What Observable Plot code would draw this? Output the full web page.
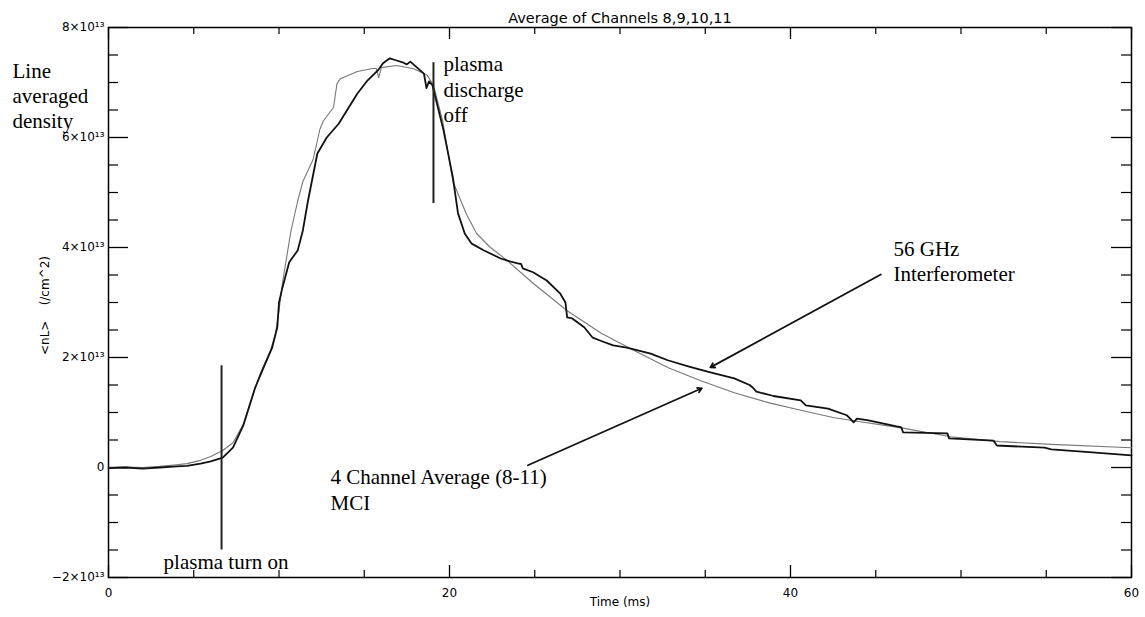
<!DOCTYPE html>
<html>
<head>
<meta charset="utf-8">
<script src="https://cdn.jsdelivr.net/npm/d3@7"></script>
<script src="https://cdn.jsdelivr.net/npm/@observablehq/plot@0.6"></script>
<style>
html,body{margin:0;padding:0;background:#fff;overflow:hidden;}
</style>
</head>
<body>
<div id="chart"></div>
<script>
// Time axis (ms) and density values in units of 10^13 /cm^2
const title = "Average of Channels 8,9,10,11";
const xLabel = "Time (ms)";
const yLabel = "<nL>    (/cm^2)";
const xMajor = [0, 20, 40, 60];
const xMinor = [5, 10, 15, 25, 30, 35, 45, 50, 55];
const yMajor = [-2, 0, 2, 4, 6, 8];
const yMinor = [-1.5, -1, -0.5, 0.5, 1, 1.5, 2.5, 3, 3.5, 4.5, 5, 5.5, 6.5, 7, 7.5];

// 56 GHz interferometer (dark trace)
const ifTime = [0,1,2,3,4,4.6,5.4,6.0,6.7,7.3,7.9,8.6,9.1,9.6,9.9,10.0,10.2,10.6,11.1,11.4,11.7,12.25,12.8,13.5,14.1,14.6,15.2,15.8,16.1,16.5,16.9,17.3,17.5,17.7,18.1,18.5,18.65,18.8,19.0,19.65,20.2,20.5,20.9,21.3,22.0,23.0,23.4,24.0,24.2,24.3,24.9,25.7,26.5,26.8,26.9,27.2,27.9,28.4,28.9,29.6,30.4,31.8,32.8,34.0,35.3,36.7,37.6,37.8,38.0,39.0,40.6,40.9,42.2,43.3,43.5,43.7,43.9,44.5,46.5,46.6,49.2,49.3,51.9,52.1,54.9,55.3,57.5,60];
const ifDensity = [-0.01,0.0,-0.02,0.0,0.02,0.03,0.07,0.11,0.18,0.36,0.76,1.45,1.82,2.18,2.55,3.0,3.27,3.73,3.95,4.31,4.85,5.71,6.0,6.25,6.55,6.8,7.04,7.22,7.35,7.44,7.4,7.36,7.33,7.38,7.27,7.16,6.9,7.02,6.95,6.13,5.27,4.62,4.25,4.07,3.95,3.8,3.76,3.71,3.7,3.62,3.55,3.4,3.16,3.0,2.73,2.71,2.55,2.36,2.3,2.22,2.18,2.07,1.95,1.84,1.73,1.62,1.5,1.45,1.38,1.3,1.22,1.13,1.07,0.95,0.89,0.82,0.89,0.86,0.73,0.64,0.62,0.53,0.49,0.4,0.36,0.33,0.28,0.22];

// 4 channel average (8-11) MCI (light trace)
const mciTime = [0,1,2,3,4,4.6,5.4,6.0,6.7,7.3,7.9,8.5,8.9,9.5,9.8,10.0,10.2,10.4,10.7,11.1,11.4,12.0,12.4,12.6,13.2,13.4,13.6,14.6,15.4,15.7,15.85,16.0,16.9,17.9,18.7,19.06,19.6,20.2,21.0,21.6,22.4,23.4,24.9,26.9,28.9,30.8,32.8,34.7,36.7,38.7,40.6,42.5,43.7,46.5,49.4,52.3,55.3,60];
const mciDensity = [0.0,0.01,0.0,0.02,0.05,0.07,0.13,0.2,0.31,0.45,0.78,1.35,1.71,2.13,2.44,2.85,3.35,3.73,4.3,4.85,5.2,5.6,6.15,6.3,6.55,6.98,7.07,7.2,7.25,7.26,7.09,7.27,7.31,7.25,7.13,6.95,6.3,5.2,4.6,4.25,4.0,3.76,3.35,2.85,2.44,2.13,1.82,1.58,1.36,1.18,1.04,0.91,0.85,0.72,0.56,0.47,0.42,0.36];

// annotations (data coordinates)
const notes = [
  {text: "Line\naveraged\ndensity", x: -5.63, y: 6.77},
  {text: "plasma\ndischarge\noff", x: 19.65, y: 6.89},
  {text: "56 GHz\nInterferometer", x: 46.04, y: 3.77},
  {text: "4 Channel Average (8-11)\nMCI", x: 13.02, y: -0.39},
  {text: "plasma turn on", x: 3.23, y: -1.69}
];
const markers = [
  {x: 6.63, y1: -1.5, y2: 1.85},
  {x: 19.06, y1: 4.8, y2: 7.36}
];
const pointers = [
  {x1: 45.3, y1: 3.51, x2: 35.3, y2: 1.82},
  {x1: 24.6, y1: 0.04, x2: 34.8, y2: 1.44}
];

const ifData = ifTime.map((t, i) => ({t, v: ifDensity[i]}));
const mciData = mciTime.map((t, i) => ({t, v: mciDensity[i]}));

const W = 1145, H = 617, ML = 108, MR = 14, MT = 27, MB = 40;
const PW = W - ML - MR, PH = H - MT - MB;
const fmt = d => d === 0 ? "0" : (d < 0 ? "−" : "") + Math.abs(d) + "×10¹³";

const chart = Plot.plot({
  width: W, height: H,
  marginLeft: ML, marginRight: MR, marginTop: MT, marginBottom: MB,
  x: {domain: [0, 60]},
  y: {domain: [-2, 8]},
  style: {fontFamily: "DejaVu Sans", fontSize: "12px", background: "white", color: "black"},
  marks: [
    Plot.frame({stroke: "black", strokeWidth: 1.5}),
    // inward ticks on all four sides
    Plot.ruleY(yMajor, {insetRight: PW - 20, stroke: "black", strokeWidth: 1.3}),
    Plot.ruleY(yMinor, {insetRight: PW - 10, stroke: "black", strokeWidth: 1.2}),
    Plot.ruleY(yMajor, {insetLeft: PW - 20, stroke: "black", strokeWidth: 1.3}),
    Plot.ruleY(yMinor, {insetLeft: PW - 10, stroke: "black", strokeWidth: 1.2}),
    Plot.ruleX(xMajor, {insetTop: PH - 12, stroke: "black", strokeWidth: 1.3}),
    Plot.ruleX(xMinor, {insetTop: PH - 7, stroke: "black", strokeWidth: 1.2}),
    Plot.ruleX(xMajor, {insetBottom: PH - 12, stroke: "black", strokeWidth: 1.3}),
    Plot.ruleX(xMinor, {insetBottom: PH - 7, stroke: "black", strokeWidth: 1.2}),
    Plot.axisX({ticks: xMajor, tickSize: 0, tickPadding: 11, tickFormat: d => String(d), label: null, fontSize: 12}),
    Plot.axisY({ticks: yMajor, tickSize: 0, tickPadding: 4, tickFormat: fmt, label: null, fontSize: 12}),
    // data traces
    Plot.line(mciData, {x: "t", y: "v", stroke: "#777", strokeWidth: 1.1}),
    Plot.line(ifData, {x: "t", y: "v", stroke: "#111", strokeWidth: 1.8}),
    // markers and pointers
    Plot.ruleX(markers, {x: "x", y1: "y1", y2: "y2", stroke: "#222", strokeWidth: 2}),
    Plot.arrow(pointers, {x1: "x1", y1: "y1", x2: "x2", y2: "y2", stroke: "#111", strokeWidth: 1.8, headLength: 4, bend: 0}),
    // annotations
    Plot.text(notes, {x: "x", y: "y", text: "text", textAnchor: "start", lineAnchor: "middle", lineHeight: 1.2,
      fontFamily: "Liberation Serif", fontSize: 21, fill: "black"}),
    // titles
    Plot.text([title], {frameAnchor: "top", dy: -15, text: d => d, fontSize: 14.5}),
    Plot.text([xLabel], {frameAnchor: "bottom", dy: 28, text: d => d, fontSize: 12}),
    Plot.text([yLabel], {frameAnchor: "left", dx: -63, dy: 3, rotate: -90, textAnchor: "middle", text: d => d, fontSize: 12})
  ]
});
document.getElementById("chart").appendChild(chart);
</script>
</body>
</html>
